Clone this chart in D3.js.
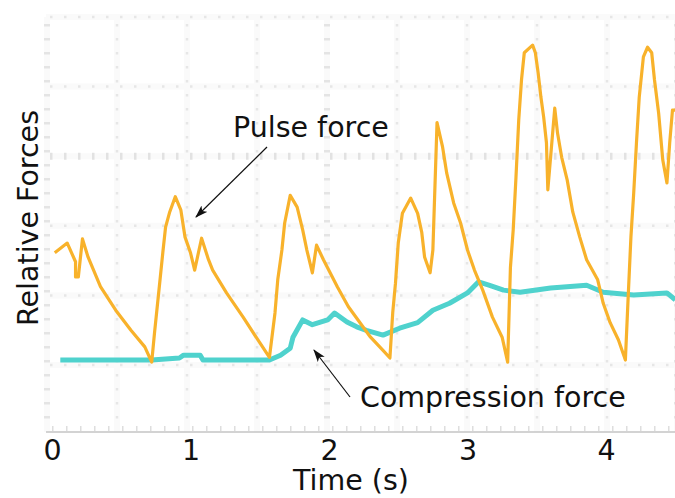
<!DOCTYPE html>
<html>
<head>
<meta charset="utf-8">
<script src="https://cdn.jsdelivr.net/npm/d3@7"></script>
<style>
  html, body { margin: 0; padding: 0; background: #fff; }
  svg { display: block; font-family: 'DejaVu Sans', sans-serif; }
</style>
</head>
<body>
<svg id="chart" width="675" height="498"></svg>
<script>
'use strict';

// time (s) and level (screen divisions) of the pulse force trace
const pulseTime = [0.02, 0.11, 0.17, 0.17, 0.19, 0.22, 0.26, 0.35, 0.46, 0.57,
  0.67, 0.72, 0.74, 0.78, 0.80, 0.82, 0.85, 0.89, 0.93, 0.96,
  1.00, 1.03, 1.08, 1.13, 1.16, 1.26, 1.38, 1.50, 1.57, 1.61,
  1.63, 1.66, 1.68, 1.72, 1.77, 1.81, 1.84, 1.88, 1.91, 1.96,
  2.06, 2.14, 2.30, 2.39, 2.44, 2.46, 2.48, 2.50, 2.53, 2.59,
  2.64, 2.67, 2.69, 2.73, 2.75, 2.78, 2.82, 2.85, 2.90, 2.95,
  3.00, 3.05, 3.11, 3.18, 3.25, 3.29, 3.31, 3.33, 3.35, 3.37,
  3.39, 3.41, 3.47, 3.49, 3.51, 3.53, 3.55, 3.57, 3.58, 3.63,
  3.65, 3.68, 3.72, 3.76, 3.81, 3.86, 3.94, 3.98, 4.03, 4.09,
  4.14, 4.16, 4.18, 4.20, 4.22, 4.24, 4.27, 4.30, 4.33, 4.35,
  4.38, 4.41, 4.44, 4.46, 4.48, 4.50];
const pulseLevel = [2.59, 2.73, 2.46, 2.24, 2.24, 2.79, 2.53, 2.10, 1.76, 1.47,
  1.23, 1.01, 1.43, 2.20, 2.59, 2.96, 3.18, 3.40, 3.21, 2.82,
  2.59, 2.34, 2.80, 2.49, 2.34, 2.01, 1.66, 1.29, 1.08, 1.72,
  2.20, 2.63, 3.02, 3.42, 3.25, 2.92, 2.63, 2.30, 2.70, 2.49,
  2.10, 1.81, 1.37, 1.18, 1.07, 1.72, 2.15, 2.73, 3.16, 3.38,
  3.16, 2.88, 2.53, 2.30, 2.63, 4.47, 4.12, 3.74, 3.31, 3.02,
  2.63, 2.34, 2.05, 1.66, 1.37, 1.01, 2.38, 2.92, 3.68, 4.51,
  5.09, 5.48, 5.59, 5.48, 5.19, 4.84, 4.55, 4.18, 3.50, 4.68,
  4.32, 3.97, 3.64, 3.18, 2.82, 2.49, 2.20, 1.86, 1.58, 1.33,
  1.04, 1.95, 2.82, 3.45, 4.18, 4.84, 5.42, 5.56, 5.48, 5.09,
  4.61, 3.93, 3.60, 4.18, 4.65, 4.65];

// compression force trace
const compTime = [0.06, 0.72, 0.92, 0.95, 1.07, 1.09, 1.57, 1.65, 1.72, 1.74,
  1.81, 1.88, 1.99, 2.04, 2.13, 2.20, 2.27, 2.39, 2.51, 2.64,
  2.75, 2.87, 3.00, 3.08, 3.16, 3.26, 3.38, 3.60, 3.86, 3.98,
  4.20, 4.44, 4.50];
const compLevel = [1.04, 1.04, 1.07, 1.11, 1.11, 1.04, 1.04, 1.11, 1.21, 1.37,
  1.62, 1.55, 1.62, 1.72, 1.59, 1.52, 1.47, 1.40, 1.50, 1.58,
  1.76, 1.86, 2.01, 2.17, 2.12, 2.05, 2.02, 2.08, 2.12, 2.02,
  1.98, 2.01, 1.91];

const timeTicks = [0, 1, 2, 3, 4];

const width = 675, height = 498;
const plotLeft = 46, plotTop = 17, plotBottom = 432;
const fontSize = 28.5;

const svg = d3.select('#chart');

const x = d3.scaleLinear().domain([0, 4.5]).range([52, 675.25]);
const y = d3.scaleLinear().domain([0, 6]).range([plotBottom, 16.8]);

// scope screen divisions (the grid is not aligned with the time axis)
const divX = d3.scaleLinear().domain([0, 1]).range([47, 117]);
const divY = d3.scaleLinear().domain([0, 1]).range([17, 86.6]);

drawGrid();
drawAxis();
drawTraces();
drawLabels();

function drawGrid() {
  const g = svg.append('g').attr('class', 'grid');

  // very faint bands behind the grid lines
  d3.range(0, 6).forEach(k => {
    g.append('line')
      .attr('x1', plotLeft).attr('x2', width)
      .attr('y1', divY(k)).attr('y2', divY(k))
      .attr('stroke', '#fafafa')
      .attr('stroke-width', 6);
  });
  d3.range(0, 10).forEach(k => {
    g.append('line')
      .attr('x1', divX(k)).attr('x2', divX(k))
      .attr('y1', plotTop).attr('y2', plotBottom)
      .attr('stroke', '#fafafa')
      .attr('stroke-width', 6);
  });

  // dotted division lines
  d3.range(0, 6).forEach(k => {
    g.append('line')
      .attr('x1', plotLeft + 4).attr('x2', width)
      .attr('y1', divY(k)).attr('y2', divY(k))
      .attr('stroke', k == 2 ? '#e2e2e2' : '#e6e6e6')
      .attr('stroke-width', k == 2 ? 7 : 2.5)
      .attr('stroke-dasharray', '2.5,11.5');
  });
  d3.range(0, 10).forEach(k => {
    const edge = k == 0 || k == 4 || k == 9;
    g.append('line')
      .attr('x1', divX(k)).attr('x2', divX(k))
      .attr('y1', plotTop + 7).attr('y2', plotBottom - 4)
      .attr('stroke', edge ? '#e4e4e4' : '#e6e6e6')
      .attr('stroke-width', edge ? 6 : 2.5)
      .attr('stroke-dasharray', '2.5,11.5');
  });
}

function drawAxis() {
  const g = svg.append('g').attr('class', 'axis');

  // minor ticks along the bottom edge
  g.append('line')
    .attr('x1', plotLeft + 6).attr('x2', width)
    .attr('y1', plotBottom - 3.5).attr('y2', plotBottom - 3.5)
    .attr('stroke', '#dedede')
    .attr('stroke-width', 5)
    .attr('stroke-dasharray', '1.5,12.5');

  g.append('line')
    .attr('x1', plotLeft).attr('x2', width)
    .attr('y1', plotBottom).attr('y2', plotBottom)
    .attr('stroke', '#c4c4c4')
    .attr('stroke-width', 1.5);

  const axis = svg.append('g')
    .attr('transform', 'translate(0,' + plotBottom + ')')
    .call(d3.axisBottom(x)
      .tickValues(timeTicks)
      .tickFormat(d3.format('d'))
      .tickSize(0)
      .tickPadding(8));
  axis.select('.domain').remove();
  axis.selectAll('text')
    .attr('font-size', fontSize)
    .attr('font-family', 'DejaVu Sans')
    .attr('fill', '#111');
}

function drawTraces() {
  const compData = compTime.map((t, i) => [t, compLevel[i]]);
  const pulseData = pulseTime.map((t, i) => [t, pulseLevel[i]]);

  const line = d3.line()
    .x(d => x(d[0]))
    .y(d => y(d[1]))
    .curve(d3.curveLinear);

  svg.append('path')
    .datum(compData)
    .attr('fill', 'none')
    .attr('stroke', '#4fd2cd')
    .attr('stroke-width', 5)
    .attr('stroke-linejoin', 'round')
    .attr('d', line);

  svg.append('path')
    .datum(pulseData)
    .attr('fill', 'none')
    .attr('stroke', '#f8b22b')
    .attr('stroke-width', 3.2)
    .attr('stroke-linejoin', 'round')
    .attr('d', line);
}

function drawLabels() {
  const defs = svg.append('defs');
  defs.append('marker')
    .attr('id', 'arrow')
    .attr('viewBox', '0 0 12 8')
    .attr('refX', 11)
    .attr('refY', 4)
    .attr('markerWidth', 13)
    .attr('markerHeight', 9)
    .attr('markerUnits', 'userSpaceOnUse')
    .attr('orient', 'auto')
    .append('path')
    .attr('d', 'M0,0 L12,4 L0,8 L3,4 Z')
    .attr('fill', '#111');

  svg.append('text')
    .attr('x', 233)
    .attr('y', 137)
    .attr('font-size', fontSize)
    .attr('fill', '#111')
    .text('Pulse force');

  svg.append('line')
    .attr('x1', 267).attr('y1', 147)
    .attr('x2', 196).attr('y2', 217)
    .attr('stroke', '#111')
    .attr('stroke-width', 1.2)
    .attr('marker-end', 'url(#arrow)');

  svg.append('text')
    .attr('x', 360)
    .attr('y', 407)
    .attr('font-size', fontSize)
    .attr('fill', '#111')
    .text('Compression force');

  svg.append('line')
    .attr('x1', 350).attr('y1', 397)
    .attr('x2', 314).attr('y2', 350)
    .attr('stroke', '#111')
    .attr('stroke-width', 1.2)
    .attr('marker-end', 'url(#arrow)');

  svg.append('text')
    .attr('x', 351)
    .attr('y', 490)
    .attr('text-anchor', 'middle')
    .attr('font-size', fontSize)
    .attr('fill', '#111')
    .text('Time (s)');

  svg.append('text')
    .attr('transform', 'translate(38,218) rotate(-90)')
    .attr('text-anchor', 'middle')
    .attr('font-size', fontSize)
    .attr('fill', '#111')
    .text('Relative Forces');
}
</script>
</body>
</html>
